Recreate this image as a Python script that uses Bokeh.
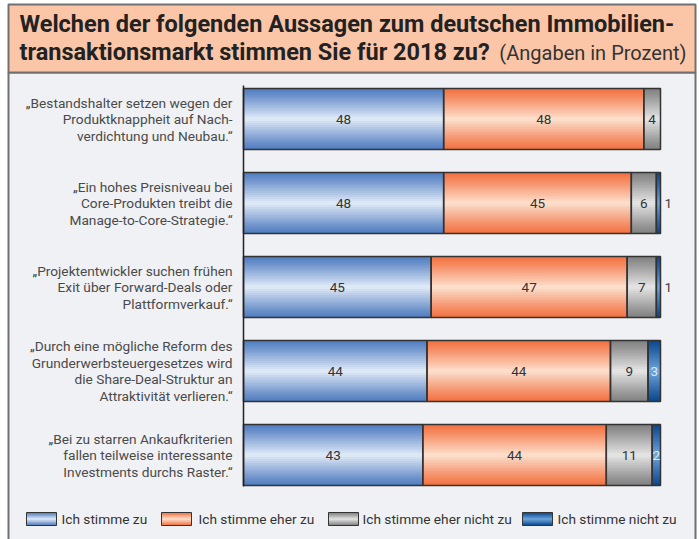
from bokeh.plotting import figure
from bokeh.models import Range1d
from bokeh.core.properties import value
from bokeh.embed import file_html
from bokeh.resources import INLINE

# ---------------- data ----------------
statements = [
    ["„Bestandshalter setzen wegen der", "Produktknappheit auf Nach-", "verdichtung und Neubau.“"],
    ["„Ein hohes Preisniveau bei", "Core-Produkten treibt die", "Manage-to-Core-Strategie.“"],
    ["„Projektentwickler suchen frühen", "Exit über Forward-Deals oder", "Plattformverkauf.“"],
    ["„Durch eine mögliche Reform des", "Grunderwerbsteuergesetzes wird", "die Share-Deal-Struktur an", "Attraktivität verlieren.“"],
    ["„Bei zu starren Ankaufkriterien", "fallen teilweise interessante", "Investments durchs Raster.“"],
]
stimme_zu = [48, 48, 45, 44, 43]
stimme_eher_zu = [48, 45, 47, 44, 44]
stimme_eher_nicht_zu = [4, 6, 7, 9, 11]
stimme_nicht_zu = [0, 1, 1, 3, 2]
series_names = ["Ich stimme zu", "Ich stimme eher zu", "Ich stimme eher nicht zu", "Ich stimme nicht zu"]
title_bold_1 = "Welchen der folgenden Aussagen zum deutschen Immobilien-"
title_bold_2 = "transaktionsmarkt stimmen Sie für 2018 zu?"
title_note = "(Angaben in Prozent)"

# ---------------- styling ----------------
W, H = 699, 539
X0, PXU = 243.0, 4.17      # pixel of value 0, pixels per percent
Y0, PYU = 118.5, 84.0      # pixel of first category centre, pixels per category
BAR_H = 0.725
FONT = value("Roboto")

# (edge colour, highlight colour)
grad = [("#4f7bbf", "#e2ecf8"), ("#f2703f", "#fde1cf"), ("#808080", "#e6e6e6"), ("#0b488e", "#6ea6dd")]


def X(px):
    return (px - X0) / PXU


def Y(py):
    return (py - Y0) / PYU


def hex2rgb(h):
    h = h.lstrip("#")
    return [int(h[i:i + 2], 16) for i in (0, 2, 4)]


def mix(c1, c2, f):
    a, b = hex2rgb(c1), hex2rgb(c2)
    return "#%02x%02x%02x" % tuple(int(round(a[i] + (b[i] - a[i]) * f)) for i in range(3))


p = figure(width=W, height=H, output_backend="svg", toolbar_location=None,
           x_range=Range1d(X(0), X(W)), y_range=Range1d(Y(H), Y(0)),
           min_border=0, min_border_left=0, min_border_right=0, min_border_top=0, min_border_bottom=0)
p.axis.visible = False
p.grid.visible = False
p.outline_line_color = None
p.background_fill_color = "white"
p.border_fill_color = "white"

# panel and title box
p.quad(left=[X(8)], right=[X(695)], top=[Y(72)], bottom=[Y(560)],
       fill_color="#f0f1f4", line_color="#707070", line_width=2)
p.quad(left=[X(8)], right=[X(695)], top=[Y(4)], bottom=[Y(72)],
       fill_color="#fbc6a8", line_color="#707070", line_width=2)

p.text(x=[X(19)], y=[Y(23)], text=[title_bold_1], text_font=FONT, text_font_style="bold",
       text_font_size="23.5px", text_color="#222222", text_baseline="middle", text_align="left")
p.text(x=[X(19)], y=[Y(51)], text=[title_bold_2], text_font=FONT, text_font_style="bold",
       text_font_size="23.5px", text_color="#222222", text_baseline="middle", text_align="left")
p.text(x=[X(686)], y=[Y(52)], text=[title_note], text_font=FONT,
       text_font_size="20px", text_color="#333333", text_baseline="middle", text_align="right")

NSTRIP = 30


def gradient_box(l, r, top, bottom, c_edge, c_mid, strips=NSTRIP):
    L, R, T, B, C = [], [], [], [], []
    eps = (bottom - top) / strips * 0.6
    for k in range(strips):
        t0 = top + (bottom - top) * k / strips
        t1 = top + (bottom - top) * (k + 1) / strips
        tm = (k + 0.5) / strips
        f = 1 - abs(tm - 0.5) / 0.5
        f = max(0.0, min(1.0, f)) ** 1.1
        L.append(l); R.append(r); T.append(t0); B.append(min(bottom, t1 + eps)); C.append(mix(c_edge, c_mid, f))
    return L, R, T, B, C


series = [stimme_zu, stimme_eher_zu, stimme_eher_nicht_zu, stimme_nicht_zu]
GL, GR, GT, GB, GC = [], [], [], [], []
OL, OR_, OT, OB = [], [], [], []
tx, ty, tt, tc = [], [], [], []
ox, oy, ot = [], [], []
for i in range(len(statements)):
    left = 0.0
    for s, vals in enumerate(series):
        v = vals[i]
        if v <= 0:
            continue
        right = left + v
        top, bottom = i - BAR_H / 2, i + BAR_H / 2
        L, R, T, B, C = gradient_box(left, right, top, bottom, *grad[s])
        GL += L; GR += R; GT += T; GB += B; GC += C
        OL.append(left); OR_.append(right); OT.append(top); OB.append(bottom)
        if s == 3 and v < 2:
            ox.append(100 + 1.85); oy.append(i); ot.append(str(v))
        else:
            tx.append((left + right) / 2); ty.append(i); tt.append(str(v))
            tc.append("#d8e8f8" if s == 3 else "#333333")
        left = right

p.quad(left=GL, right=GR, top=GT, bottom=GB, fill_color=GC, line_color=None)
p.quad(left=OL, right=OR_, top=OT, bottom=OB, fill_color=None, line_color="#333333", line_width=1.5)
p.text(x=tx, y=ty, text=tt, text_color=tc, text_font=FONT, text_font_size="13.5px",
       text_align="center", text_baseline="middle")
p.text(x=ox, y=oy, text=ot, text_color="#444444", text_font=FONT, text_font_size="13.5px",
       text_align="center", text_baseline="middle")

# axis line
p.segment(x0=[0], y0=[Y(85)], x1=[0], y1=[Y(486)], line_color="#222222", line_width=1.5)

# statement labels
lx, ly, lt = [], [], []
LINE = 16.5 / PYU
for i, lines in enumerate(statements):
    n = len(lines)
    for k, line in enumerate(lines):
        lx.append(X(232)); ly.append(i + (k - (n - 1) / 2) * LINE); lt.append(line)
p.text(x=lx, y=ly, text=lt, text_color="#4a4a4a", text_font=FONT, text_font_size="13.7px",
       text_align="right", text_baseline="middle")

# legend
sw_left = [26, 161, 328, 522]
txt_left = [61, 198, 362, 557]
for s, name in enumerate(series_names):
    L, R, T, B, C = gradient_box(X(sw_left[s]), X(sw_left[s] + 30), Y(512), Y(525), *grad[s], strips=12)
    p.quad(left=L, right=R, top=T, bottom=B, fill_color=C, line_color=None)
    p.quad(left=[X(sw_left[s])], right=[X(sw_left[s] + 30)], top=[Y(512)], bottom=[Y(525)],
           fill_color=None, line_color="#333333", line_width=1)
    p.text(x=[X(txt_left[s])], y=[Y(518.5)], text=[name], text_color="#333333", text_font=FONT,
           text_font_size="13.7px", text_align="left", text_baseline="middle")

open("out.html", "w").write(file_html(p, INLINE))
